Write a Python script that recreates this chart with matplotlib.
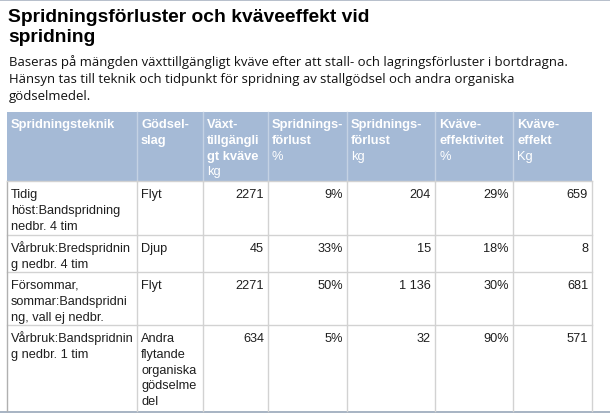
import matplotlib
matplotlib.use("Agg")
import matplotlib.pyplot as plt
from matplotlib.patches import Rectangle

# ---- data ----
title = "Spridningsförluster och kväveeffekt vid\nspridning"
subtitle = ("Baseras på mängden växttillgängligt kväve efter att stall- och lagringsförluster i bortdragna.\n"
            "Hänsyn tas till teknik och tidpunkt för spridning av stallgödsel och andra organiska\n"
            "gödselmedel.")

header_names = ["Spridningsteknik", "Gödsel-\nslag", "Växt-\ntillgängli\ngt kväve",
                "Spridnings-\nförlust", "Spridnings-\nförlust", "Kväve-\neffektivitet", "Kväve-\neffekt"]
header_units = ["", "", "kg", "%", "kg", "%", "Kg"]

teknik = ["Tidig\nhöst:Bandspridning\nnedbr. 4 tim",
          "Vårbruk:Bredspridnin\ng nedbr. 4 tim",
          "Försommar,\nsommar:Bandspridni\nng, vall ej nedbr.",
          "Vårbruk:Bandspridnin\ng nedbr. 1 tim"]
godselslag = ["Flyt", "Djup", "Flyt", "Andra\nflytande\norganiska\ngödselme\ndel"]
vaxttillgangligt_kg = [2271, 45, 2271, 634]
spridningsforlust_pct = [9, 33, 50, 5]
spridningsforlust_kg = ["204", "15", "1 136", "32"]   # som i källan
kvaveeffektivitet_pct = [29, 18, 30, 90]
kvaveeffekt_kg = [659, 8, 681, 571]

# ---- layout (pixlar) ----
W, H = 610, 414
col_edges = [7, 137, 203, 268, 347, 435, 513, 592]
row_edges = [113, 182, 236, 273, 326, 412]
pad = 4
line_h = 15.8

header_bg = "#a5bad6"
header_fg = "#ffffff"
grid_body = "#d2d2d2"
grid_head = "#c4d2e4"
text_col = "#1e1e1e"

plt.rcParams['font.family'] = ['Liberation Sans', 'DejaVu Sans']

fig = plt.figure(figsize=(W / 100, H / 100), dpi=100)
ax = fig.add_axes([0, 0, 1, 1])
ax.set_xlim(0, W)
ax.set_ylim(H, 0)
ax.axis("off")


def lines_at(x, y0, text, step, **kw):
    # en rad i taget så att baslinjen hamnar rätt
    lines = text.split("\n")
    for k, ln in enumerate(lines):
        ax.text(x, y0 + k * step, ln, va="baseline", **kw)
    return len(lines)


# topplinje
ax.plot([0, W], [0.5, 0.5], color="#aab4c2", lw=1.2)

lines_at(8, 22, title, 20.5, fontsize=13.9, fontweight="bold", color="black")
lines_at(9, 66, subtitle, 17, fontsize=9.45, family=["Open Sans", "DejaVu Sans"],
         color="#111111")

# header
x0, x1 = col_edges[0], col_edges[-1]
ax.add_patch(Rectangle((x0, row_edges[0]), x1 - x0, row_edges[1] - row_edges[0],
                       facecolor=header_bg, edgecolor="none"))
for i, name in enumerate(header_names):
    xl = col_edges[i] + pad
    n = lines_at(xl, row_edges[0] + 15, name, line_h, fontsize=9.3, fontweight="bold",
                 color=header_fg)
    if header_units[i]:
        ax.text(xl, row_edges[0] + 15 + n * line_h, header_units[i], fontsize=9.3,
                color=header_fg, va="baseline")

# body
rows = list(zip(teknik, godselslag,
                [str(v) for v in vaxttillgangligt_kg],
                [f"{v}%" for v in spridningsforlust_pct],
                spridningsforlust_kg,
                [f"{v}%" for v in kvaveeffektivitet_pct],
                [str(v) for v in kvaveeffekt_kg]))
for r, row in enumerate(rows):
    top = row_edges[r + 1]
    for c, val in enumerate(row):
        if c < 2:
            lines_at(col_edges[c] + pad, top + 16, val, line_h, fontsize=9.2, color=text_col)
        else:
            ax.text(col_edges[c + 1] - pad, top + 16, val, fontsize=9.2,
                    color=text_col, va="baseline", ha="right")

# rutnät
for y in row_edges[2:-1]:
    ax.plot([x0, x1], [y, y], color=grid_body, lw=1)
for x in col_edges[1:-1]:
    ax.plot([x, x], [row_edges[0], row_edges[1]], color=grid_head, lw=1)
    ax.plot([x, x], [row_edges[1], row_edges[-1]], color=grid_body, lw=1)
ax.plot([x0, x0], [row_edges[1], row_edges[-1]], color="#b0b0b0", lw=1)
ax.plot([x1, x1], [row_edges[1], row_edges[-1]], color=grid_body, lw=1)
ax.plot([x0, x1], [row_edges[1], row_edges[1]], color=grid_body, lw=1)

# nedre list
ax.add_patch(Rectangle((0, row_edges[-1]), W, H - row_edges[-1],
                       facecolor="#a9b5c4", edgecolor="none"))

fig.savefig("out.png", dpi=100)
